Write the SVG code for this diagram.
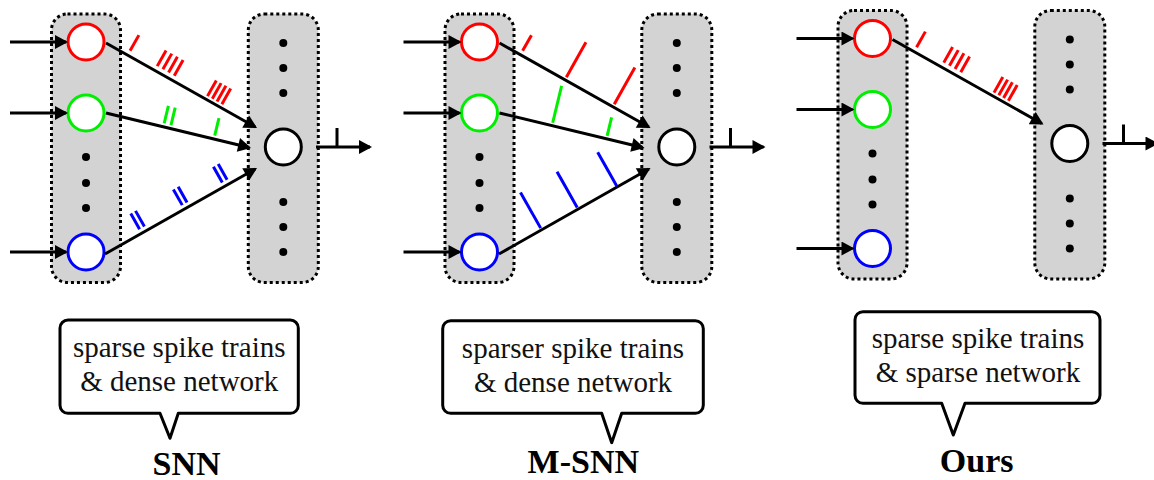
<svg xmlns="http://www.w3.org/2000/svg" width="1154" height="480" viewBox="0 0 1154 480">
  <style>
    .layer { fill: #d3d3d3; stroke: #000; stroke-width: 3; stroke-dasharray: 3 3; }
    .neuron { fill: #fff; stroke-width: 3; }
    .dot { fill: #000; }
    .edge { fill: none; stroke: #000; stroke-width: 3; marker-end: url(#arrow); }
    .plain { fill: none; stroke: #000; stroke-width: 3; }
    .spk { stroke-width: 3; fill: none; }
    .r { stroke: #ff0000; }
    .g { stroke: #00ee00; }
    .b { stroke: #0000ff; }
    .k { stroke: #000; }
    .bubble { fill: #fff; stroke: #000; stroke-width: 3; stroke-linejoin: round; }
    .note { font-family: "Liberation Serif", "Times New Roman", serif; font-size: 29px; fill: #111; text-anchor: middle; }
    .title { font-family: "Liberation Serif", "Times New Roman", serif; font-size: 34px; font-weight: bold; fill: #000; text-anchor: middle; }
  </style>
  <defs>
    <marker id="arrow" markerUnits="userSpaceOnUse" markerWidth="14" markerHeight="14" viewBox="0 0 13 14" refX="11" refY="7" orient="auto">
      <path d="M0,0 L13,7 L0,14 Z" fill="#000"/>
    </marker>
    <!-- shared two-layer network: input layer, output layer -->
    <g id="inLayer">
      <rect class="layer" x="51.5" y="14" width="69" height="268.5" rx="16"/>
      <circle class="dot" cx="86" cy="157" r="4"/>
      <circle class="dot" cx="86" cy="183" r="4"/>
      <circle class="dot" cx="86" cy="208" r="4"/>
    </g>
    <g id="outLayer">
      <rect class="layer" x="248.3" y="14" width="70" height="268.5" rx="16"/>
      <circle class="dot" cx="283.3" cy="43" r="4"/>
      <circle class="dot" cx="283.3" cy="68" r="4"/>
      <circle class="dot" cx="283.3" cy="93" r="4"/>
      <circle class="dot" cx="283.3" cy="202" r="4"/>
      <circle class="dot" cx="283.3" cy="227" r="4"/>
      <circle class="dot" cx="283.3" cy="252" r="4"/>
    </g>
    <g id="io">
      <line class="edge" x1="10" y1="42" x2="66" y2="42"/>
      <line class="edge" x1="10" y1="113" x2="66" y2="113"/>
      <line class="edge" x1="10" y1="252" x2="66" y2="252"/>
      <line class="edge" x1="316" y1="147" x2="370" y2="147"/>
      <line class="plain" x1="337" y1="128" x2="337" y2="147"/>
    </g>
  </defs>

  <!-- ===== SNN ===== -->
  <g id="panel-snn">
    <g id="snn-input-layer"><use href="#inLayer"/></g>
    <g id="snn-output-layer"><use href="#outLayer"/></g>
    <g id="snn-n-red"><circle class="neuron r" cx="86" cy="42" r="18"/></g>
    <g id="snn-n-green"><circle class="neuron g" cx="86" cy="113" r="18"/></g>
    <g id="snn-n-blue"><circle class="neuron b" cx="86" cy="252" r="18"/></g>
    <g id="snn-n-out"><circle class="neuron k" cx="283.3" cy="147" r="18"/></g>
    <g id="snn-connectors">
      <use href="#io"/>
      <line class="edge" x1="106" y1="43" x2="255.3" y2="127"/>
      <line class="edge" x1="106" y1="113" x2="249.1" y2="147.5"/>
      <line class="edge" x1="105" y1="254" x2="255.3" y2="169"/>
    </g>
    <g id="snn-spikes" class="spk">
      <g class="r" transform="translate(106,43) rotate(29.38)">
        <line x1="24.8" y1="-5" x2="24.8" y2="-23"/>
        <line x1="56" y1="-5" x2="56" y2="-23"/>
        <line x1="62.5" y1="-5" x2="62.5" y2="-23"/>
        <line x1="69" y1="-5" x2="69" y2="-23"/>
        <line x1="75.5" y1="-5" x2="75.5" y2="-23"/>
        <line x1="114.5" y1="-3.5" x2="114.5" y2="-21.5"/>
        <line x1="120" y1="-3.5" x2="120" y2="-21.5"/>
        <line x1="125.5" y1="-3.5" x2="125.5" y2="-21.5"/>
        <line x1="131" y1="-3.5" x2="131" y2="-21.5"/>
      </g>
      <g class="g" transform="translate(106,113) rotate(13.57)">
        <line x1="59" y1="-3.5" x2="59" y2="-21.5"/>
        <line x1="66" y1="-3.5" x2="66" y2="-21.5"/>
        <line x1="111" y1="-3.5" x2="111" y2="-21.5"/>
      </g>
      <g class="b" transform="translate(105,254) rotate(-29.5)">
        <line x1="42.3" y1="-4.5" x2="42.3" y2="-22.5"/>
        <line x1="47.8" y1="-4.5" x2="47.8" y2="-22.5"/>
        <line x1="91.3" y1="-4.5" x2="91.3" y2="-22.5"/>
        <line x1="96.8" y1="-4.5" x2="96.8" y2="-22.5"/>
        <line x1="137.3" y1="-4.5" x2="137.3" y2="-22.5"/>
        <line x1="142.8" y1="-4.5" x2="142.8" y2="-22.5"/>
      </g>
    </g>
    <g id="snn-callout">
      <path class="bubble" d="M68,320 H290.3 A8,8 0 0 1 298.3,328 V405.3 A8,8 0 0 1 290.3,413.3 H178.3 L170,438.3 L160,413.3 H68 A8,8 0 0 1 60,405.3 V328 A8,8 0 0 1 68,320 Z"/>
      <text class="note" x="179.2" y="356.7">sparse spike trains</text>
      <text class="note" x="179.2" y="390.7">&amp; dense network</text>
    </g>
    <text class="title" x="186.5" y="475">SNN</text>
  </g>

  <!-- ===== M-SNN ===== -->
  <g id="panel-msnn">
    <g transform="translate(393.5,0)">
      <g id="msnn-input-layer"><use href="#inLayer"/></g>
      <g id="msnn-output-layer"><use href="#outLayer"/></g>
      <g id="msnn-n-red"><circle class="neuron r" cx="86" cy="42" r="18"/></g>
      <g id="msnn-n-green"><circle class="neuron g" cx="86" cy="113" r="18"/></g>
      <g id="msnn-n-blue"><circle class="neuron b" cx="86" cy="252" r="18"/></g>
      <g id="msnn-n-out"><circle class="neuron k" cx="283.3" cy="147" r="18"/></g>
      <g id="msnn-connectors">
        <use href="#io"/>
        <line class="edge" x1="106" y1="43" x2="255.3" y2="127"/>
        <line class="edge" x1="106" y1="113" x2="249.1" y2="147.5"/>
        <line class="edge" x1="105.5" y1="254" x2="255.3" y2="169"/>
      </g>
      <g id="msnn-spikes" class="spk">
        <g class="r" transform="translate(106,43) rotate(29.38)">
          <line x1="24" y1="-4.5" x2="24" y2="-22.5"/>
          <line x1="75" y1="-3" x2="75" y2="-43"/>
          <line x1="130" y1="-3" x2="130" y2="-45"/>
        </g>
        <g class="g" transform="translate(106,113) rotate(13.57)">
          <line x1="54" y1="-3" x2="54" y2="-41"/>
          <line x1="110" y1="-3" x2="110" y2="-22"/>
        </g>
        <g class="b" transform="translate(105.5,254) rotate(-29.5)">
          <line x1="49" y1="-2" x2="49" y2="-43"/>
          <line x1="91" y1="-2" x2="91" y2="-43"/>
          <line x1="136" y1="-1" x2="136" y2="-40"/>
        </g>
      </g>
    </g>
    <g id="msnn-callout">
      <path class="bubble" d="M450.7,320.7 H695.3 A8,8 0 0 1 703.3,328.7 V405.3 A8,8 0 0 1 695.3,413.3 H621.7 L611.7,442.7 L601.7,413.3 H450.7 A8,8 0 0 1 442.7,405.3 V328.7 A8,8 0 0 1 450.7,320.7 Z"/>
      <text class="note" x="573" y="358.3">sparser spike trains</text>
      <text class="note" x="573" y="391.7">&amp; dense network</text>
    </g>
    <text class="title" x="583.3" y="473.3">M-SNN</text>
  </g>

  <!-- ===== Ours ===== -->
  <g id="panel-ours">
    <g transform="translate(786.5,-3.5)">
      <g id="ours-input-layer"><use href="#inLayer"/></g>
      <g id="ours-output-layer"><use href="#outLayer"/></g>
      <g id="ours-n-red"><circle class="neuron r" cx="86" cy="42" r="18"/></g>
      <g id="ours-n-green"><circle class="neuron g" cx="86" cy="113" r="18"/></g>
      <g id="ours-n-blue"><circle class="neuron b" cx="86" cy="252" r="18"/></g>
      <g id="ours-n-out"><circle class="neuron k" cx="283.3" cy="147" r="18"/></g>
      <g id="ours-connectors">
        <use href="#io"/>
        <line class="edge" x1="106" y1="43" x2="255.3" y2="127"/>
      </g>
      <g id="ours-spikes" class="spk">
        <g class="r" transform="translate(106,43) rotate(29.38)">
          <line x1="24.8" y1="-5" x2="24.8" y2="-23"/>
          <line x1="56" y1="-5" x2="56" y2="-23"/>
          <line x1="62.5" y1="-5" x2="62.5" y2="-23"/>
          <line x1="69" y1="-5" x2="69" y2="-23"/>
          <line x1="75.5" y1="-5" x2="75.5" y2="-23"/>
          <line x1="114.5" y1="-3.5" x2="114.5" y2="-21.5"/>
          <line x1="120" y1="-3.5" x2="120" y2="-21.5"/>
          <line x1="125.5" y1="-3.5" x2="125.5" y2="-21.5"/>
          <line x1="131" y1="-3.5" x2="131" y2="-21.5"/>
        </g>
      </g>
    </g>
    <g id="ours-callout">
      <path class="bubble" d="M863,311.7 H1092 A8,8 0 0 1 1100,319.7 V395.3 A8,8 0 0 1 1092,403.3 H965 L953.3,435 L941.7,403.3 H863 A8,8 0 0 1 855,395.3 V319.7 A8,8 0 0 1 863,311.7 Z"/>
      <text class="note" x="978" y="348.3">sparse spike trains</text>
      <text class="note" x="978" y="381.7">&amp; sparse network</text>
    </g>
    <text class="title" x="976.7" y="472">Ours</text>
  </g>
</svg>
